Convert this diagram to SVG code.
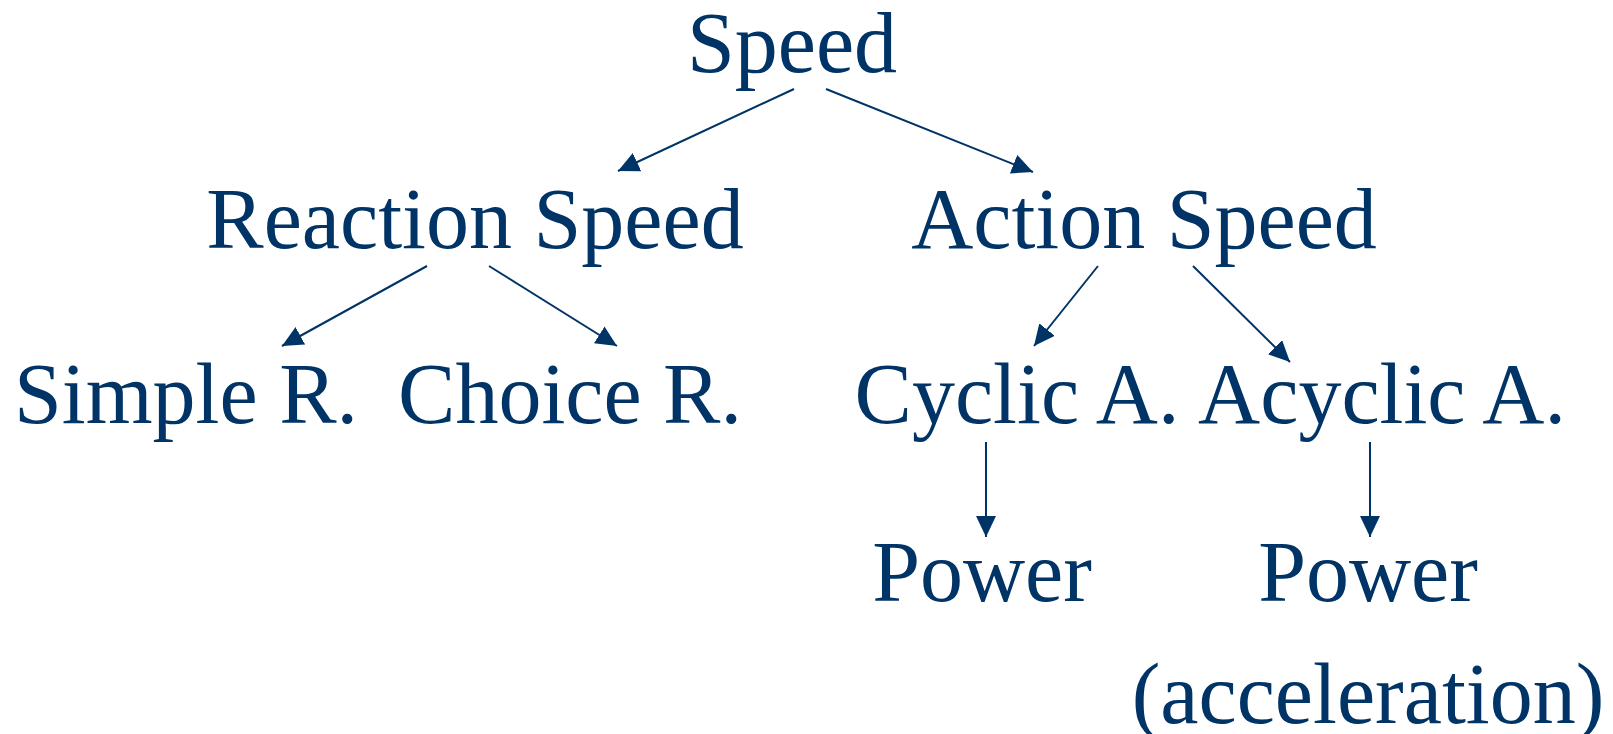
<svg xmlns="http://www.w3.org/2000/svg" width="1613" height="734" viewBox="0 0 1613 734">
<style>
text{font-family:'Liberation Serif','Times New Roman','DejaVu Serif',serif;font-size:86px;fill:#003366;text-anchor:middle}
.c line{stroke:#003366;stroke-width:2;fill:none;marker-end:url(#ah)}
</style>
<defs>
<marker id="ah" markerUnits="userSpaceOnUse" markerWidth="21" markerHeight="20" refX="21" refY="10" orient="auto" viewBox="0 0 21 20">
<path d="M0,0 L21,10 L0,20 z" fill="#003366"/>
</marker>
</defs>
<rect width="1613" height="734" fill="#ffffff"/>
<g id="n-speed"><text x="792" y="72" font-family="Liberation Serif, serif">Speed</text></g>
<g id="n-reaction"><text x="475" y="248" font-family="Liberation Serif, serif">Reaction Speed</text></g>
<g id="n-action"><text x="1144" y="248" font-family="Liberation Serif, serif">Action Speed</text></g>
<g id="n-simple"><text x="186" y="423" font-family="Liberation Serif, serif">Simple R.</text></g>
<g id="n-choice"><text x="570" y="423" font-family="Liberation Serif, serif">Choice R.</text></g>
<g id="n-cyclic"><text x="1017" y="423" font-family="Liberation Serif, serif">Cyclic A.</text></g>
<g id="n-acyclic"><text x="1382" y="423" font-family="Liberation Serif, serif">Acyclic A.</text></g>
<g id="n-power1"><text x="982" y="601" font-family="Liberation Serif, serif">Power</text></g>
<g id="n-power2"><text x="1368" y="601" font-family="Liberation Serif, serif">Power</text><text x="1368" y="723" font-family="Liberation Serif, serif">(acceleration)</text></g>
<g id="connectors" class="c">
<line x1="794" y1="89" x2="618" y2="171"/>
<line x1="826" y1="89" x2="1033" y2="172"/>
<line x1="427" y1="266" x2="282" y2="346"/>
<line x1="489" y1="266" x2="617" y2="346"/>
<line x1="1098" y1="266" x2="1034" y2="346"/>
<line x1="1193" y1="266" x2="1290" y2="362"/>
<line x1="986" y1="442" x2="986" y2="537"/>
<line x1="1370" y1="442" x2="1370" y2="537"/>
</g>
</svg>
